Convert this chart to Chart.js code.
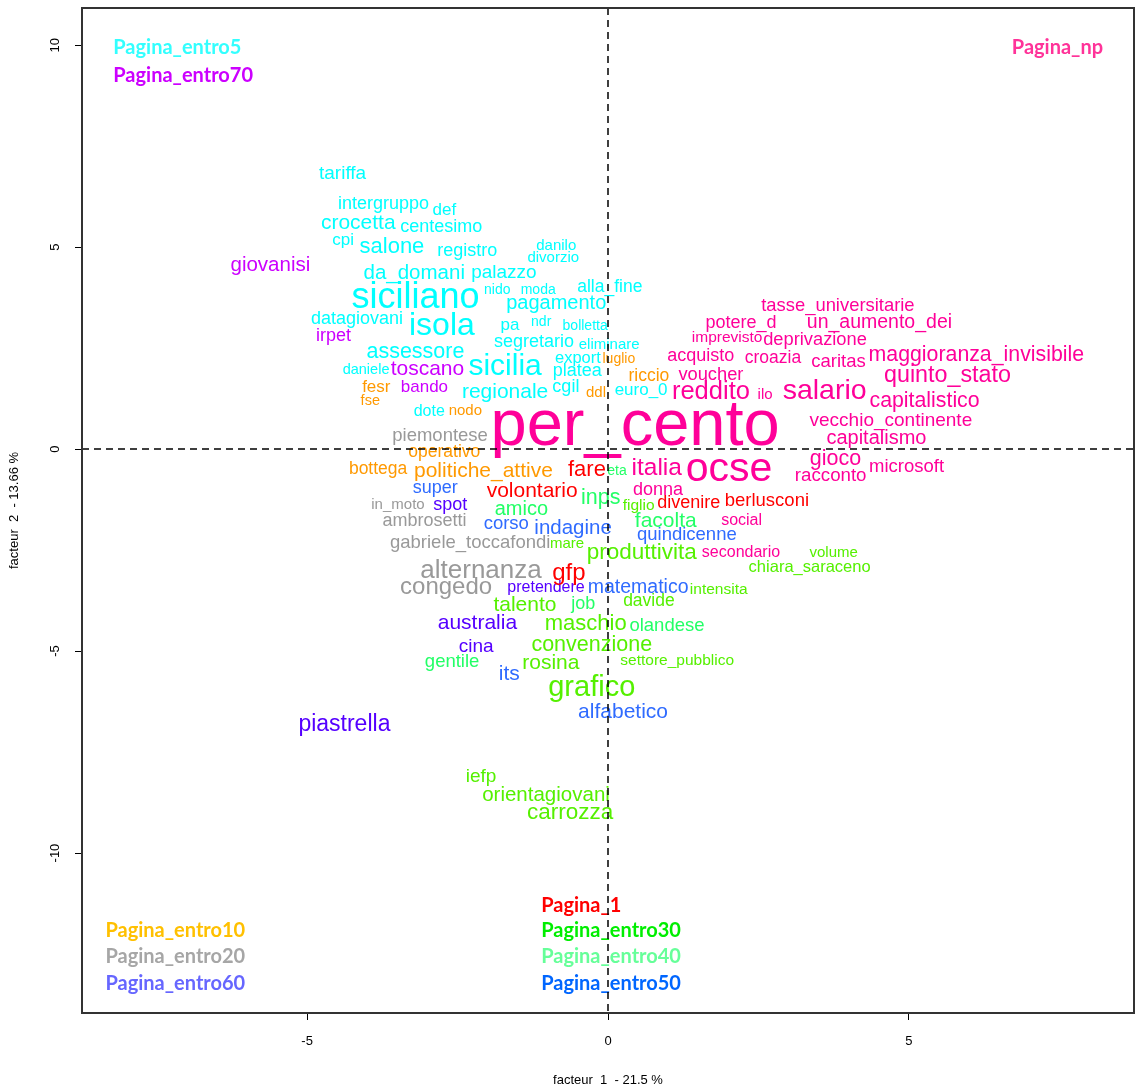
<!DOCTYPE html>
<html>
<head>
<meta charset="utf-8">
<script src="https://cdn.jsdelivr.net/npm/chart.js@4.4.0/dist/chart.umd.min.js"></script>
<style>
  html, body { margin: 0; padding: 0; background: #fff; }
  #wrap { width: 1135px; height: 1091px; position: relative; }
</style>
</head>
<body>
<div id="wrap"><canvas id="afcChart"></canvas></div>
<script>
// axis ticks (factor coordinates)
const xTicks = [-5, 0, 5];
const yTicks = [-10, -5, 0, 5, 10];

// groups and their colours
const groupNames = ["Pagina_1", "Pagina_entro5", "Pagina_entro10", "Pagina_entro20", "Pagina_entro30",
  "Pagina_entro40", "Pagina_entro50", "Pagina_entro60", "Pagina_entro70", "Pagina_np"];
const wordColors = {
  Pagina_1: "#FF0000", Pagina_entro5: "#00FFFF", Pagina_entro10: "#FF9900", Pagina_entro20: "#999999",
  Pagina_entro30: "#55F000", Pagina_entro40: "#22FF66", Pagina_entro50: "#2F6BFF", Pagina_entro60: "#5500FF",
  Pagina_entro70: "#CC00FF", Pagina_np: "#FF0099"
};
const legendColors = {
  Pagina_1: "#FF0000", Pagina_entro5: "#33FFFF", Pagina_entro10: "#FFC000", Pagina_entro20: "#A6A6A6",
  Pagina_entro30: "#00EE00", Pagina_entro40: "#66FF99", Pagina_entro50: "#0066FF", Pagina_entro60: "#6666FF",
  Pagina_entro70: "#CC00FF", Pagina_np: "#FF3399"
};

// words, factor 1 / factor 2 coordinates, text size and group
const words = [
  "tariffa", "intergruppo", "def", "crocetta", "centesimo", "cpi", "salone", "registro", "da_domani", "palazzo",
  "danilo", "divorzio", "siciliano", "nido", "moda", "alla_fine", "pagamento", "isola", "datagiovani", "pa",
  "ndr", "bolletta", "assessore", "segretario", "eliminare", "export", "sicilia", "platea", "daniele", "regionale",
  "cgil", "euro_0", "dote",
  "giovanisi", "irpet", "toscano", "bando",
  "luglio", "riccio", "ddl", "fesr", "fse", "nodo", "operativo", "bottega", "politiche_attive",
  "piemontese", "in_moto", "ambrosetti", "gabriele_toccafondi", "alternanza", "congedo",
  "spot", "pretendere", "australia", "cina", "piastrella",
  "super", "corso", "indagine", "quindicenne", "matematico", "its", "alfabetico",
  "fare", "volontario", "gfp", "divenire", "berlusconi",
  "mare", "produttivita", "figlio", "intensita", "talento", "davide", "maschio", "convenzione", "rosina",
  "settore_pubblico", "grafico", "iefp", "orientagiovani", "carrozza", "volume", "chiara_saraceno",
  "inps", "amico", "eta", "facolta", "job", "olandese", "gentile",
  "per_cento", "italia", "ocse", "reddito", "ilo", "salario", "acquisto", "tasse_universitarie", "potere_d",
  "un_aumento_dei", "imprevisto", "deprivazione", "croazia", "caritas", "maggioranza_invisibile", "voucher",
  "quinto_stato", "capitalistico", "vecchio_continente", "capitalismo", "gioco", "racconto", "microsoft",
  "donna", "social", "secondario"
];
const wordX = [
  -4.41, -3.73, -2.72, -4.15, -2.77, -4.40, -3.59, -2.34, -3.22, -1.73,
  -0.86, -0.91, -3.20, -1.84, -1.16, 0.03, -0.86, -2.76, -4.17, -1.63,
  -1.11, -0.38, -3.20, -1.23, 0.02, -0.50, -1.71, -0.51, -4.02, -1.71,
  -0.70, 0.55, -2.97,
  -5.61, -4.56, -3.00, -3.05,
  0.18, 0.68, -0.20, -3.85, -3.95, -2.37, -2.72, -3.82, -2.07,
  -2.79, -3.49, -3.05, -2.29, -2.11, -2.69,
  -2.62, -1.03, -2.17, -2.19, -4.38,
  -2.87, -1.69, -0.58, 1.31, 0.50, -1.64, 0.25,
  -0.35, -1.26, -0.65, 1.34, 2.64,
  -0.68, 0.56, 0.51, 1.84, -1.38, 0.68, -0.37, -0.27, -0.95,
  1.15, -0.27, -2.11, -1.03, -0.63, 3.75, 3.35,
  -0.12, -1.44, 0.15, 0.96, -0.41, 0.98, -2.59,
  0.45, 0.81, 2.01, 1.71, 2.61, 3.60, 1.54, 3.82, 2.21,
  4.51, 1.98, 3.44, 2.74, 3.83, 6.12, 1.71,
  5.64, 5.26, 4.70, 4.46, 3.78, 3.70, 4.96,
  0.83, 2.22, 2.21
];
const wordY = [
  6.81, 6.06, 5.92, 5.59, 5.50, 5.17, 5.00, 4.90, 4.36, 4.36,
  5.02, 4.73, 3.74, 3.94, 3.94, 4.01, 3.61, 3.04, 3.22, 3.07,
  3.14, 3.04, 2.40, 2.65, 2.57, 2.25, 2.05, 1.93, 1.96, 1.41,
  1.53, 1.46, 0.94,
  4.55, 2.80, 1.98, 1.53,
  2.23, 1.81, 1.39, 1.53, 1.19, 0.94, -0.07, -0.50, -0.54,
  0.32, -1.39, -1.78, -2.33, -3.02, -3.42,
  -1.39, -3.42, -4.31, -4.90, -6.81,
  -0.97, -1.86, -1.96, -2.13, -3.42, -5.57, -6.51,
  -0.52, -1.04, -3.07, -1.34, -1.29,
  -2.35, -2.57, -1.39, -3.49, -3.86, -3.76, -4.33, -4.85, -5.30,
  -5.25, -5.92, -8.12, -8.56, -9.01, -2.57, -2.92,
  -1.21, -1.49, -0.54, -1.78, -3.84, -4.38, -5.27,
  0.54, -0.47, -0.52, 1.41, 1.34, 1.44, 2.30, 3.54, 3.12,
  3.12, 2.75, 2.70, 2.25, 2.15, 2.33, 1.83,
  1.81, 1.19, 0.69, 0.27, -0.25, -0.67, -0.45,
  -1.01, -1.76, -2.57
];
const wordSize = [
  19, 18, 17, 21, 18, 17, 22, 18, 20.5, 19,
  15, 15, 36, 14, 14, 17.5, 20, 32, 18, 17,
  14, 14, 21.5, 18, 15, 16.5, 30, 18, 14.5, 21,
  18, 17, 16,
  20.5, 18, 21, 17,
  14, 17.5, 15, 17, 14.5, 15, 17.5, 17.5, 21,
  18.5, 15, 18, 18.5, 26, 24,
  18, 16, 21, 19, 23,
  18, 18.5, 20.5, 18.5, 19.5, 21, 21,
  22, 21, 24, 18, 18.5,
  15, 22.5, 15.5, 15.5, 21, 17.5, 22, 21.5, 21,
  15.5, 29, 19, 20.5, 22.5, 15, 16.5,
  21.5, 20, 14, 21, 18, 18.5, 18.5,
  65, 24.5, 41, 25.5, 15, 28.5, 18, 18.4, 18,
  19.5, 15.5, 18.3, 17.5, 18.5, 21.3, 18.3,
  23.3, 21.3, 19, 20, 21.5, 18.7, 18.5,
  18, 16, 16
];
const wordGroup = [].concat(
  Array(33).fill("Pagina_entro5"),
  Array(4).fill("Pagina_entro70"),
  Array(9).fill("Pagina_entro10"),
  Array(6).fill("Pagina_entro20"),
  Array(5).fill("Pagina_entro60"),
  Array(7).fill("Pagina_entro50"),
  Array(5).fill("Pagina_1"),
  Array(16).fill("Pagina_entro30"),
  Array(7).fill("Pagina_entro40"),
  Array(26).fill("Pagina_np")
);

// group name labels placed on the map (left edge, factor coordinates)
const legendGroups = ["Pagina_entro5", "Pagina_entro70", "Pagina_np", "Pagina_entro10", "Pagina_entro20",
  "Pagina_entro60", "Pagina_1", "Pagina_entro30", "Pagina_entro40", "Pagina_entro50"];
const legendX = [-8.22, -8.22, 6.71, -8.35, -8.35, -8.35, -1.11, -1.11, -1.11, -1.11];
const legendY = [9.93, 9.26, 9.93, -11.93, -12.57, -13.22, -11.31, -11.93, -12.57, -13.22];

const AXIS_FONT = '"Liberation Sans Narrow", "Liberation Sans", Arial, sans-serif';
const WORD_FONT = '"Liberation Sans", Arial, sans-serif';

// frame, dashed origin lines, rotated y tick labels, words and group labels
const mapPlugin = {
  id: "mapPlugin",
  afterDatasetsDraw(chart) {
    const ctx = chart.ctx;
    const xs = chart.scales.x;
    const ys = chart.scales.y;
    const area = chart.chartArea;
    const meta = chart.getDatasetMeta(0);

    ctx.save();
    ctx.textAlign = "center";
    ctx.textBaseline = "middle";
    meta.data.forEach((pt, i) => {
      ctx.font = wordSize[i] + "px " + WORD_FONT;
      ctx.fillStyle = wordColors[wordGroup[i]];
      ctx.fillText(words[i], pt.x, pt.y);
    });

    ctx.textAlign = "left";
    ctx.font = 'bold 20px Lato, "Open Sans", sans-serif';
    legendGroups.forEach((g, i) => {
      ctx.fillStyle = legendColors[g];
      ctx.fillText(g, xs.getPixelForValue(legendX[i]), ys.getPixelForValue(legendY[i]));
    });

    // dashed lines through the origin
    ctx.strokeStyle = "#000";
    ctx.lineWidth = 1.5;
    ctx.setLineDash([7, 5]);
    const x0 = xs.getPixelForValue(0);
    const y0 = ys.getPixelForValue(0);
    ctx.beginPath();
    ctx.moveTo(x0, area.top);
    ctx.lineTo(x0, area.bottom);
    ctx.moveTo(area.left, y0);
    ctx.lineTo(area.right, y0);
    ctx.stroke();
    ctx.setLineDash([]);

    // box
    ctx.strokeStyle = "#333";
    ctx.lineWidth = 2;
    ctx.strokeRect(area.left, area.top, area.right - area.left, area.bottom - area.top);

    // y tick labels, parallel to the axis
    ctx.fillStyle = "#000";
    ctx.font = "13px " + AXIS_FONT;
    ctx.textAlign = "center";
    ys.ticks.forEach(t => {
      const py = ys.getPixelForValue(t.value);
      ctx.save();
      ctx.translate(55, py);
      ctx.rotate(-Math.PI / 2);
      ctx.fillText(String(t.value), 0, 0);
      ctx.restore();
    });
    ctx.restore();
  }
};

const ctx = document.getElementById("afcChart");
new Chart(ctx, {
  type: "scatter",
  data: {
    datasets: [{
      label: "mots",
      data: words.map((w, i) => ({ x: wordX[i], y: wordY[i] })),
      pointRadius: 0,
      pointHoverRadius: 0
    }]
  },
  options: {
    responsive: true,
    maintainAspectRatio: false,
    animation: false,
    layout: { padding: { top: 8, right: 1, left: 0, bottom: 0 } },
    plugins: {
      legend: { display: false },
      tooltip: { enabled: false }
    },
    scales: {
      x: {
        type: "linear",
        min: -8.74,
        max: 8.74,
        afterBuildTicks: s => { s.ticks = xTicks.map(v => ({ value: v })); },
        afterFit: s => { s.height = 78; },
        grid: { drawOnChartArea: false, drawTicks: true, tickLength: 7, color: "#000" },
        border: { display: true, color: "#333", width: 2 },
        ticks: { color: "#000", font: { family: AXIS_FONT, size: 13 }, padding: 14, maxRotation: 0 },
        title: {
          display: true,
          text: "facteur  1  - 21.5 %",
          color: "#000",
          font: { family: AXIS_FONT, size: 13 },
          padding: { top: 0, bottom: 3 }
        }
      },
      y: {
        type: "linear",
        min: -13.96,
        max: 10.92,
        afterBuildTicks: s => { s.ticks = yTicks.map(v => ({ value: v })); },
        afterFit: s => { s.width = 82; },
        grid: { drawOnChartArea: false, drawTicks: true, tickLength: 7, color: "#000" },
        border: { display: true, color: "#333", width: 2 },
        ticks: { display: false },
        title: {
          display: true,
          text: "facteur  2  - 13.66 %",
          color: "#000",
          font: { family: AXIS_FONT, size: 13 },
          padding: { top: 7, bottom: 0 }
        }
      }
    }
  },
  plugins: [mapPlugin]
});
</script>
</body>
</html>
